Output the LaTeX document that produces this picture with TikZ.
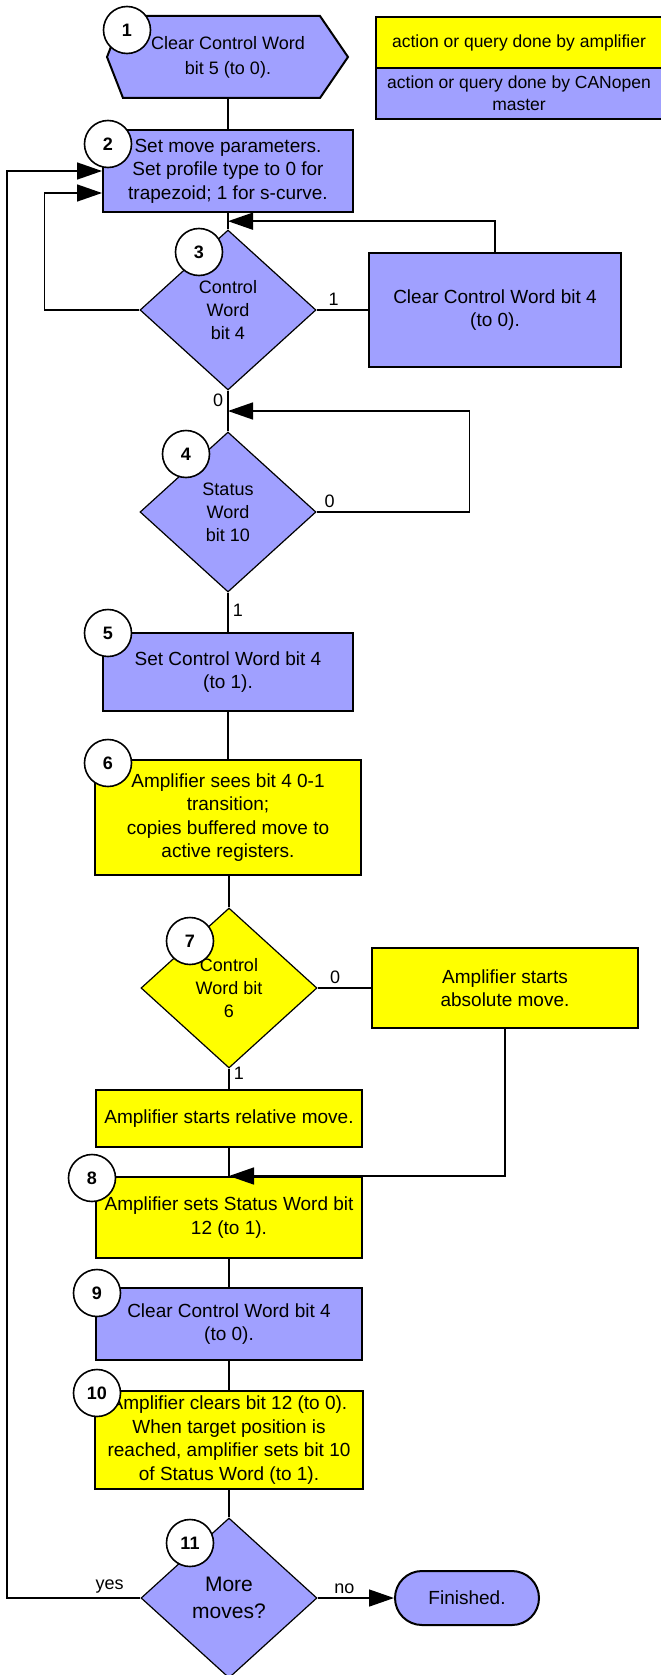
\documentclass[tikz,border=0pt]{standalone}
\usepackage{fontspec}
\setmainfont{Liberation Sans}
\usetikzlibrary{arrows.meta,shapes.geometric,calc}
\definecolor{mstblue}{RGB}{160,160,255}
\definecolor{ampyel}{RGB}{255,255,0}

\begin{document}
\begin{tikzpicture}[x=0.5pt,y=-0.5pt,line width=0.75pt,
  mbox/.style={draw,line width=1pt,fill=mstblue,align=center,inner sep=1pt,font=\fontsize{9.5}{11.75}\selectfont},
  abox/.style={mbox,fill=ampyel},
  dec/.style={diamond,draw,line width=0.6pt,fill=mstblue,minimum width=88pt,minimum height=80pt,inner sep=0pt,align=center,font=\fontsize{9}{11.5}\selectfont},
  num/.style={circle,draw,fill=white,line width=0.8pt,minimum size=23.5pt,inner sep=0pt,font=\fontsize{9}{10}\selectfont\bfseries},
  lbl/.style={font=\fontsize{9}{10}\selectfont,inner sep=2pt},
  arr/.style={-{Triangle[length=12.5pt,width=8.5pt]}}]
\useasboundingbox (0,0) rectangle (660,1675);
% legend
\node[abox,minimum width=143pt,minimum height=25.5pt,font=\fontsize{8.75}{11}\selectfont] (legamp) at (519,42.5) {action or query done by amplifier};
\node[mbox,minimum width=143pt,minimum height=25.5pt,font=\fontsize{8.75}{11}\selectfont] (legmst) at (519,93.5) {action or query done by CANopen\\master};
% steps
\draw[line width=1pt,fill=mstblue] (107,57) -- (123,16) -- (320,16) -- (348,57) -- (320,98) -- (123,98) -- cycle;
\node[align=center,minimum height=41pt,inner sep=0pt,font=\fontsize{9}{12.5}\selectfont] (hex1) at (228,57) {Clear Control Word\\bit 5 (to 0).};
\node[mbox,minimum width=125pt,minimum height=41pt] (setpar) at (228,171) {Set move parameters.\\Set profile type to 0 for\\trapezoid; 1 for s-curve.};
\node[dec] (cw4) at (228,310) {Control\\Word\\bit 4};
\node[mbox,minimum width=126pt,minimum height=57pt] (clrA) at (495,310) {Clear Control Word bit 4\\(to 0).};
\node[dec] (sw10) at (228,512) {Status\\Word\\bit 10};
\node[mbox,minimum width=125pt,minimum height=39pt] (setb4) at (228,672) {Set Control Word bit 4\\(to 1).};
\node[abox,minimum width=133pt,minimum height=57.5pt] (sees) at (228,817.5) {Amplifier sees bit 4 0-1\\transition;\\copies buffered move to\\active registers.};
\node[dec,fill=ampyel] (cw6) at (229,988) {Control\\Word bit\\6};
\node[abox,minimum width=133pt,minimum height=40pt] (absmv) at (505,988) {Amplifier starts\\absolute move.};
\node[abox,minimum width=133pt,minimum height=28.5pt] (relmv) at (229,1118.5) {Amplifier starts relative move.};
\node[abox,minimum width=133pt,minimum height=40.5pt] (sets12) at (229,1217.5) {Amplifier sets Status Word bit\\12 (to 1).};
\node[mbox,minimum width=133pt,minimum height=36pt] (clrB) at (229,1324) {Clear Control Word bit 4\\(to 0).};
\node[abox,minimum width=134pt,minimum height=49pt] (clr12) at (229,1440) {Amplifier clears bit 12 (to 0).\\When target position is\\reached, amplifier sets bit 10\\of Status Word (to 1).};
\node[dec,font=\fontsize{10.5}{13.5}\selectfont] (more) at (229,1598) {More\\moves?};
\node[draw,line width=1pt,fill=mstblue,rounded corners=13.5pt,minimum width=72pt,minimum height=27pt,font=\fontsize{9.5}{11}\selectfont] (fin) at (467,1598) {Finished.};
% links
\coordinate (j3) at ($(setpar.south)!0.5!(cw4.north)$);
\coordinate (j4) at ($(cw4.south)!0.5!(sw10.north)$);
\draw (hex1.south) -- (hex1.south |- setpar.north);
\draw (setpar.south) -- (cw4.north);
\draw[arr] (clrA.north) |- (j3);
\draw (cw4.east) -- node[lbl,above,pos=0.33]{1} (clrA.west);
\draw[arr] (cw4.west) -- ++(-95,0) |- ([yshift=-11pt]setpar.west);
\draw (cw4.south) -- node[lbl,left,pos=0.24]{0} (sw10.north);
\draw[arr] (sw10.east) -- node[lbl,above,pos=0.085]{0} ++(153,0) |- (j4);
\draw (sw10.south) -- node[lbl,right,pos=0.45]{1} (setb4.north);
\draw (setb4.south) -- (sees.north);
\draw (cw6.north |- sees.south) -- (cw6.north);
\draw (cw6.east) -- node[lbl,above,pos=0.33]{0} (absmv.west);
\draw (cw6.south) -- node[lbl,right,pos=0.25]{1} (relmv.north);
\draw (relmv.south) -- (sets12.north);
\draw[arr] (absmv.south) |- (sets12.north);
\draw (sets12.south) -- (clrB.north);
\draw (clrB.south) -- (clr12.north);
\draw (clr12.south) -- (more.north);
\draw[arr] (more.west) -- node[lbl,above,pos=0.23]{yes} ++(-133.4,0) |- (setpar.west);
\draw[arr] (more.east) -- node[lbl,above,pos=0.35]{no} (fin.west);
% step numbers
\foreach \k/\x/\y in {1/127/30,2/108/144,3/199/252,4/186/454,5/108/633,6/108/763,7/190/941,8/92/1178,9/97/1293,10/97/1393,11/190/1543}
  \node[num] (n\k) at (\x,\y) {\k};
\end{tikzpicture}
\end{document}
